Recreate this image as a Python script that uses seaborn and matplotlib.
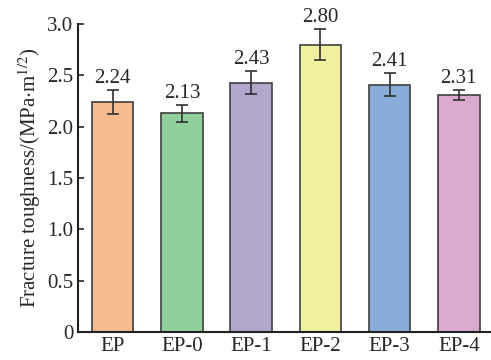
import pandas as pd
import numpy as np
import matplotlib
matplotlib.use("Agg")
import matplotlib.pyplot as plt
import seaborn as sns

# data
samples = ["EP", "EP-0", "EP-1", "EP-2", "EP-3", "EP-4"]
toughness = [2.24, 2.13, 2.43, 2.80, 2.41, 2.31]
errors = [0.12, 0.08, 0.115, 0.15, 0.11, 0.05]
colors = ["#F5BC90", "#90D09C", "#B3A7CD", "#F0F0A0", "#88ADD9", "#DBA9CE"]

df = pd.DataFrame({"Sample": samples, "Toughness": toughness})

sns.set_style("ticks")
plt.rcParams["font.family"] = ["Liberation Serif", "DejaVu Serif"]
plt.rcParams["mathtext.fontset"] = "stix"

fig = plt.figure(figsize=(4.91, 3.6), dpi=100)
ax = fig.add_axes([0.159, 0.078, 0.839, 0.855])

sns.barplot(data=df, x="Sample", y="Toughness", hue="Sample", palette=colors,
            saturation=1, width=0.6, edgecolor="#404040", linewidth=1.2,
            errorbar=None, legend=False, ax=ax)
ax.errorbar(np.arange(len(samples)), toughness, yerr=errors, fmt="none",
            ecolor="#303030", elinewidth=1.2, capsize=4, capthick=1.2)

for i, (v, e) in enumerate(zip(toughness, errors)):
    ax.text(i, v + e + 0.02, f"{v:.2f}", ha="center", va="bottom", fontsize=15)

ax.set_xlim(-0.5, 5.45)
ax.set_ylim(0, 3.0)
ax.set_yticks([0, 0.5, 1.0, 1.5, 2.0, 2.5, 3.0])
ax.set_yticklabels(["0", "0.5", "1.0", "1.5", "2.0", "2.5", "3.0"])
ax.tick_params(direction="in", labelsize=15, width=1.2, length=4)
ax.set_xlabel("")
ax.set_ylabel("Fracture toughness/(MPa$\\cdot$m$^{1/2}$)", fontsize=15, labelpad=3)
for s in ["left", "bottom"]:
    ax.spines[s].set_linewidth(1.5)
    ax.spines[s].set_color("#202020")
sns.despine(ax=ax)

fig.savefig("out.png", dpi=100)
